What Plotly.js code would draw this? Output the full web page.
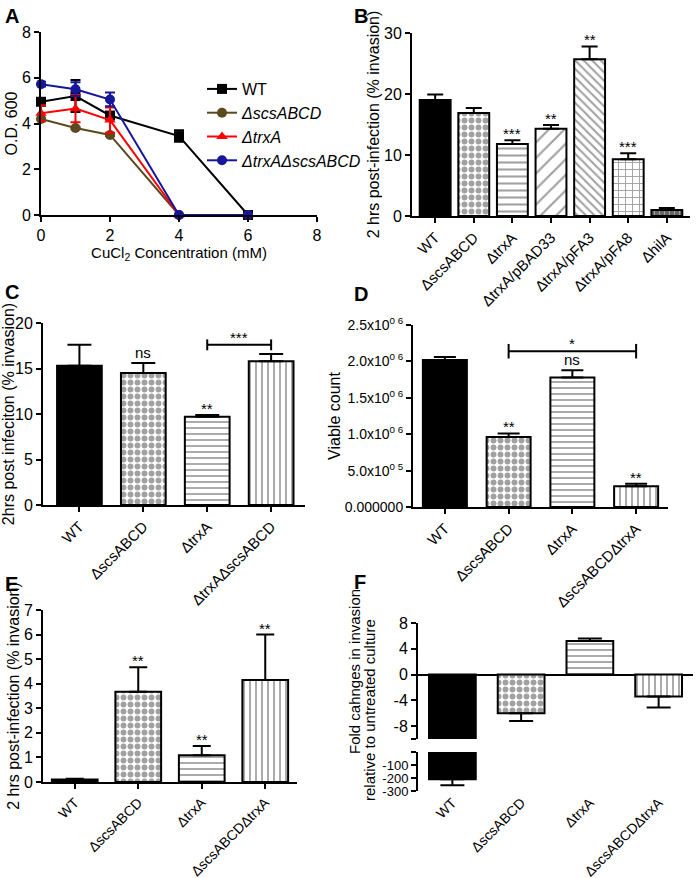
<!DOCTYPE html>
<html>
<head>
<meta charset="utf-8">
<script src="https://cdn.plot.ly/plotly-3.0.1.min.js"></script>
<style>
  body { margin: 0; background: white; }
  #fig { width: 698px; height: 878px; }
</style>
</head>
<body>
<div id="fig"></div>
<script>
// ---- panel A: growth vs CuCl2
const aConc = [0, 1, 2, 4, 6];
const aWT = [4.95, 5.2, 4.35, 3.45, 0];
const aWTErr = [0.1, 0.7, 0.15, 0.25, 0];
const aScs = [4.2, 3.8, 3.5, 0, 0];
const aScsErr = [0.05, 0.05, 0.05, 0, 0];
const aTrx = [4.45, 4.65, 4.15, 0, 0];
const aTrxErr = [0.35, 0.6, 0.55, 0, 0];
const aDbl = [5.72, 5.5, 5.05, 0, 0];
const aDblErr = [0.1, 0.3, 0.3, 0, 0];

// ---- panel B
const bCats = ['WT', 'ΔscsABCD', 'ΔtrxA', 'ΔtrxA/pBAD33', 'ΔtrxA/pFA3', 'ΔtrxA/pFA8', 'ΔhilA'];
const bVals = [19.0, 16.9, 11.8, 14.3, 25.7, 9.3, 1.0];
const bErr = [0.9, 0.8, 0.6, 0.6, 2.1, 1.0, 0.3];
const bSig = ['', '', '***', '**', '**', '***', ''];

// ---- panel C
const cCats = ['WT', 'ΔscsABCD', 'ΔtrxA', 'ΔtrxAΔscsABCD'];
const cVals = [15.3, 14.5, 9.7, 15.8];
const cErr = [2.3, 1.1, 0.2, 0.8];
const cSig = ['', 'ns', '**', ''];

// ---- panel D
const dCats = ['WT', 'ΔscsABCD', 'ΔtrxA', 'ΔscsABCDΔtrxA'];
const dVals = [2.02e6, 0.96e6, 1.78e6, 0.285e6];
const dErr = [0.04e6, 0.05e6, 0.1e6, 0.035e6];
const dSig = ['', '**', 'ns', '**'];
const dTickVals = [0, 0.5e6, 1.0e6, 1.5e6, 2.0e6, 2.5e6];
const dTickText = ['0.000000', '5.0x10<sup>0 5</sup>', '1.0x10<sup>0 6</sup>', '1.5x10<sup>0 6</sup>', '2.0x10<sup>0 6</sup>', '2.5x10<sup>0 6</sup>'];

// ---- panel E
const eCats = ['WT', 'ΔscsABCD', 'ΔtrxA', 'ΔscsABCDΔtrxA'];
const eVals = [0.1, 3.67, 1.09, 4.15];
const eErr = [0.03, 1.0, 0.38, 1.85];
const eSig = ['', '**', '**', '**'];

// ---- panel F
const fCats = ['WT', 'ΔscsABCD', 'ΔtrxA', 'ΔscsABCDΔtrxA'];
const fVals = [-210, -6.0, 5.2, -3.4];
const fErr = [45, 1.2, 0.4, 1.7];

// bar fills, same order of strains in every panel
const patShape4 = ['', '.', '-', '|'];
const patColor4 = ['black', 'white', 'white', 'white'];

const FONT = 'Arial, "Liberation Sans", sans-serif';
const W = 698, H = 878;
function dx(a, b) { return [a / W, b / W]; }
function dy(top, bot) { return [1 - bot / H, 1 - top / H]; }

function axBase(extra) {
	return Object.assign({
		showline: true, linecolor: 'black', linewidth: 2,
		ticks: 'outside', ticklen: 5, tickwidth: 2, tickcolor: 'black',
		showgrid: false, zeroline: false, automargin: false,
		tickfont: { size: 16, color: 'black' },
	}, extra);
}
function catAx(domain, anchor, cats, fsize, extra) {
	return axBase(Object.assign({
		domain: domain, anchor: anchor, type: 'category',
		categoryorder: 'array', categoryarray: cats,
		range: [-0.5, cats.length - 0.5], tickangle: -45,
		tickfont: { size: fsize, color: 'black' },
	}, extra));
}

function bars(cats, vals, errs, shapes, colors, xa, ya, w, cap, psize, psol) {
	return {
		type: 'bar', x: cats, y: vals, xaxis: xa, yaxis: ya, width: w, showlegend: false,
		marker: {
			color: colors, line: { color: 'black', width: 2 },
			pattern: { shape: shapes, fgcolor: 'black', size: psize, solidity: psol, fillmode: 'overlay' },
		},
		error_y: {
			type: 'data', symmetric: false,
			array: errs.map((e, i) => vals[i] >= 0 ? e : 0),
			arrayminus: errs.map((e, i) => vals[i] < 0 ? e : 0),
			color: 'black', thickness: 2, width: cap,
		},
	};
}

function line(name, ys, errs, color, symbol) {
	return {
		type: 'scatter', mode: 'lines+markers', name: name, x: aConc, y: ys,
		line: { color: color, width: 2 },
		marker: { color: color, symbol: symbol, size: 10 },
		error_y: { type: 'data', array: errs, color: color, thickness: 2, width: 5 },
		cliponaxis: false,
	};
}

const S4 = [7, 7, 6, 6], P4 = [0.55, 0.55, 0.3, 0.3];
var data = [
	line('WT', aWT, aWTErr, 'black', 'square'),
	line('<i>ΔscsABCD</i>', aScs, aScsErr, '#5c4a1e', 'circle'),
	line('<i>ΔtrxA</i>', aTrx, aTrxErr, '#ff0000', 'triangle-up'),
	line('<i>ΔtrxAΔscsABCD</i>', aDbl, aDblErr, '#16169a', 'circle'),
	bars(bCats, bVals, bErr, ['', '.', '-', '/', '\\', '+', '+'],
		['black', 'white', 'white', 'white', 'white', 'white', '#666'], 'x2', 'y2', 0.8, 8,
		[7, 7, 7, 11, 6, 7, 5], [0.55, 0.55, 0.3, 0.2, 0.35, 0.25, 0.3]),
	bars(cCats, cVals, cErr, patShape4, patColor4, 'x3', 'y3', 0.7, 12, S4, P4),
	bars(dCats, dVals, dErr, patShape4, patColor4, 'x4', 'y4', 0.69, 11, S4, P4),
	bars(eCats, eVals, eErr, patShape4, patColor4, 'x5', 'y5', 0.72, 9, S4, P4),
	bars(fCats, fVals, fErr, patShape4, patColor4, 'x6', 'y6', 0.68, 12, S4, P4),
	bars(fCats.slice(0, 1), fVals.slice(0, 1), fErr.slice(0, 1), [''], ['black'], 'x7', 'y7', 0.68, 12, [6], [0.5]),
];

// significance marks placed on top of the error bars
var annotations = [];
function sig(cats, vals, errs, marks, xa, ya) {
	marks.forEach(function(m, i) {
		if (!m) return;
		annotations.push({
			xref: xa, yref: ya, x: cats[i], y: vals[i] + errs[i], text: m,
			showarrow: false, xanchor: 'center', yanchor: 'bottom',
			yshift: m.indexOf('*') >= 0 ? -4 : 0, font: { size: 15, color: 'black' },
		});
	});
}
sig(bCats, bVals, bErr, bSig, 'x2', 'y2');
sig(cCats, cVals, cErr, cSig, 'x3', 'y3');
sig(dCats, dVals, dErr, dSig, 'x4', 'y4');
sig(eCats, eVals, eErr, eSig, 'x5', 'y5');

// brackets between two bars, label centred over the bracket
var shapes = [];
function bracket(xa, ya, cats, c1, c2, y, tick, mark) {
	var s = { type: 'line', xref: xa, yref: ya, line: { color: 'black', width: 2 } };
	shapes.push(Object.assign({ x0: c1, x1: c2, y0: y, y1: y }, s));
	shapes.push(Object.assign({ x0: c1, x1: c1, y0: y - tick, y1: y + tick }, s));
	shapes.push(Object.assign({ x0: c2, x1: c2, y0: y - tick, y1: y + tick }, s));
	annotations.push({
		xref: xa, yref: ya, x: (cats.indexOf(c1) + cats.indexOf(c2)) / 2, y: y, text: mark,
		showarrow: false, xanchor: 'center', yanchor: 'bottom', yshift: -3,
		font: { size: 15, color: 'black' },
	});
}
bracket('x3', 'y3', cCats, 'ΔtrxA', 'ΔtrxAΔscsABCD', 17.6, 0.6, '***');
bracket('x4', 'y4', dCats, 'ΔscsABCD', 'ΔscsABCDΔtrxA', 2.14e6, 0.1e6, '*');

// panel letters
[['A', 3, 16], ['B', 352, 16], ['C', 3, 292], ['D', 352, 294], ['E', 3, 584], ['F', 352, 582]].forEach(function(p) {
	annotations.push({
		xref: 'paper', yref: 'paper', x: p[1] / W, y: 1 - p[2] / H, xanchor: 'left', yanchor: 'middle',
		text: '<b>' + p[0] + '</b>', showarrow: false, font: { size: 20, color: 'black' },
	});
});

// panel F axis title, two lines
annotations.push({
	xref: 'paper', yref: 'paper', x: 354 / W, y: 1 - 672 / H, textangle: -90, showarrow: false,
	xanchor: 'center', yanchor: 'middle',
	text: 'Fold cahnges in invasion', font: { size: 15, color: 'black' },
});
annotations.push({
	xref: 'paper', yref: 'paper', x: 369 / W, y: 1 - 710 / H, textangle: -90, showarrow: false,
	xanchor: 'center', yanchor: 'middle',
	text: 'relative to untreated culture', font: { size: 15, color: 'black' },
});

var ytitle = function(t) { return { text: t, font: { size: 16, color: 'black' }, standoff: 0 }; };

const layout = {
	width: W, height: H,
	margin: { l: 0, r: 0, t: 0, b: 0 },
	paper_bgcolor: 'white', plot_bgcolor: 'white',
	font: { family: FONT, color: 'black' },
	bargap: 0,
	legend: {
		x: 202 / W, y: 1 - 72 / H, xanchor: 'left', yanchor: 'top',
		font: { size: 16, color: 'black' }, bgcolor: 'rgba(0,0,0,0)', itemwidth: 30,
	},
	xaxis: axBase({
		domain: dx(41, 317), anchor: 'y', range: [0, 8], dtick: 2,
		title: { text: 'CuCl<sub>2</sub> Concentration (mM)', font: { size: 15, color: 'black' }, standoff: 0 },
	}),
	yaxis: axBase({ domain: dy(32, 215), anchor: 'x', range: [0, 8], dtick: 2, title: ytitle('O.D. 600') }),

	xaxis2: catAx(dx(412, 690), 'y2', bCats, 15, { range: [-0.6, 6.6] }),
	yaxis2: axBase({ domain: dy(33, 216), anchor: 'x2', range: [0, 30], dtick: 10, title: ytitle('2 hrs post-infection (% invasion)') }),

	xaxis3: catAx(dx(43, 305), 'y3', cCats, 15, { range: [-0.57, 3.53] }),
	yaxis3: axBase({ domain: dy(323, 505), anchor: 'x3', range: [0, 20], dtick: 5, title: ytitle('2hrs post infeciton (% invasion)') }),

	xaxis4: catAx(dx(413, 668), 'y4', dCats, 15),
	yaxis4: axBase({
		domain: dy(325, 507), anchor: 'x4', range: [0, 2.5e6], tickvals: dTickVals, ticktext: dTickText,
		tickfont: { size: 14, color: 'black' }, title: ytitle('Viable count'),
	}),

	xaxis5: catAx(dx(43, 297), 'y5', eCats, 14),
	yaxis5: axBase({ domain: dy(610, 782), anchor: 'x5', range: [0, 7], dtick: 1, title: ytitle('2 hrs post-infection (% invasion)') }),

	xaxis6: catAx(dx(418, 693), 'y6', fCats, 14, { showline: false, ticks: '', showticklabels: false }),
	yaxis6: axBase({
		domain: dy(623, 739), anchor: 'x6', range: [-10, 8],
		tickvals: [-10, -8, -4, 0, 4, 8], ticktext: ['', '-8', '-4', '0', '4', '8'],
		zeroline: true, zerolinecolor: 'black', zerolinewidth: 2,
	}),
	xaxis7: catAx(dx(418, 693), 'y7', fCats, 14, { showline: false, ticks: '' }),
	yaxis7: axBase({
		domain: dy(752, 791), anchor: 'x7', range: [-300, 0],
		tickvals: [-300, -200, -100, 0], ticktext: ['-300', '-200', '-100', ''],
		tickfont: { size: 13, color: 'black' },
	}),
	shapes: shapes,
	annotations: annotations,
};

Plotly.newPlot('fig', data, layout, { staticPlot: true });
</script>
</body>
</html>
